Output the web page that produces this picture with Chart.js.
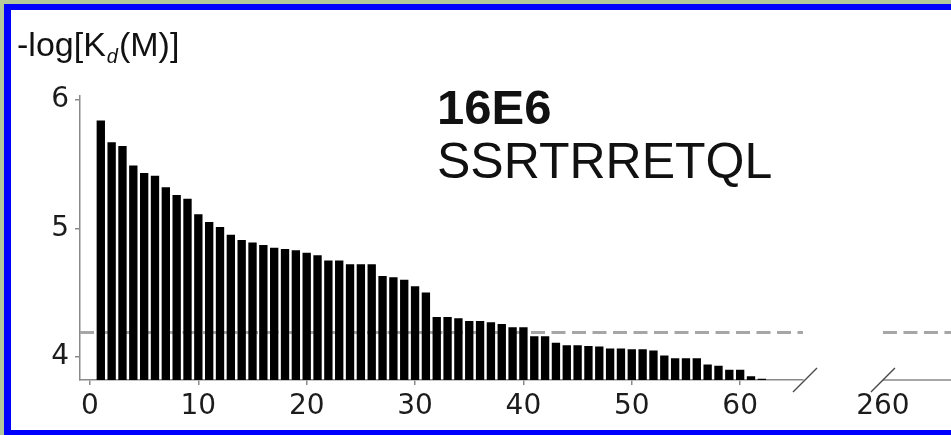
<!DOCTYPE html>
<html>
<head>
<meta charset="utf-8">
<script src="https://cdn.jsdelivr.net/npm/chart.js@4.4.1/dist/chart.umd.min.js"></script>
<style>
  html, body { margin: 0; padding: 0; }
  body {
    width: 951px; height: 435px; overflow: hidden; position: relative;
    background: #b5c89b;
    font-family: "Liberation Sans", Arial, sans-serif;
  }
  #frame {
    position: absolute; left: 4px; top: 4px; width: 970px; height: 431px;
    box-sizing: border-box; background: #fff;
    border-left: 7px solid #0000ff; border-top: 6px solid #0000ff; border-bottom: 5px solid #0000ff;
  }
  #chart { position: absolute; left: 0; top: 0; }
  .txt { position: absolute; white-space: nowrap; color: #111; line-height: 1; }
  .sub { font-size: 20px; font-style: italic; position: relative; top: 7px; margin-left: 1px; margin-right: 1px; }
</style>
</head>
<body>
<div id="frame"></div>
<canvas id="chart" width="951" height="435"></canvas>
<div class="txt" style="left:17px; top:27px; font-size:34px;">-log[K<span class="sub">d</span>(M)]</div>
<div class="txt" style="left:437px; top:83px; font-size:49px; font-weight:bold;">16E6</div>
<div class="txt" style="left:437px; top:136px; font-size:50px;">SSRTRRETQL</div>
<script>
// Ranked peptides and their binding affinity, -log[Kd (M)]
const ranks = [
  1, 2, 3, 4, 5, 6, 7, 8, 9, 10,
  11, 12, 13, 14, 15, 16, 17, 18, 19, 20,
  21, 22, 23, 24, 25, 26, 27, 28, 29, 30,
  31, 32, 33, 34, 35, 36, 37, 38, 39, 40,
  41, 42, 43, 44, 45, 46, 47, 48, 49, 50,
  51, 52, 53, 54, 55, 56, 57, 58, 59, 60,
  61, 62
];
const affinity = [
  5.84, 5.67, 5.64, 5.49, 5.43, 5.41, 5.32, 5.26, 5.23, 5.11,
  5.05, 5.01, 4.95, 4.91, 4.89, 4.87, 4.85, 4.84, 4.83, 4.81,
  4.79, 4.75, 4.75, 4.72, 4.72, 4.72, 4.63, 4.62, 4.60, 4.55,
  4.50, 4.31, 4.31, 4.30, 4.28, 4.28, 4.27, 4.255, 4.23, 4.23,
  4.16, 4.16, 4.11, 4.09, 4.09, 4.085, 4.08, 4.065, 4.065, 4.06,
  4.06, 4.05, 4.01, 3.99, 3.99, 3.99, 3.94, 3.93, 3.90, 3.90,
  3.85, 3.83
];
const threshold = 4.19;

// Axis ranges and tick labels
const yRange = [3.82, 6.03];
const yTicks = [4, 5, 6];
const xRangeMain = [-0.92, 65.8];
const xTicksMain = [0, 10, 20, 30, 40, 50, 60];
const xRangeTail = [252.62, 266.28];
const xTicksTail = [260];

const axisGray = '#8a8a8a';
const tickColor = '#1c1c1c';
const tickFont = { family: 'DejaVu Sans', size: 28 };
const setTicks = values => scale => { scale.ticks = values.map(v => ({ value: v })); };

// Right-hand axis stub plus the "//" marks of the broken x axis
const brokenAxis = {
  id: 'brokenAxis',
  afterDatasetsDraw(chart) {
    const { ctx, scales: { x, x2 } } = chart;
    const yb = x.top;
    const xs = x2.getPixelForValue(xTicksTail[0]);
    ctx.save();
    ctx.strokeStyle = axisGray;
    ctx.lineWidth = 1.5;
    ctx.beginPath();
    ctx.moveTo(xs, yb);
    ctx.lineTo(x2.right, yb);
    ctx.stroke();
    ctx.strokeStyle = '#4a4a4a';
    ctx.lineWidth = 1.4;
    ctx.beginPath();
    for (const cx of [x.right + 2, xs]) {
      ctx.moveTo(cx - 12, yb + 12);
      ctx.lineTo(cx + 12, yb - 12);
    }
    ctx.stroke();
    ctx.restore();
  }
};

const dashStyle = {
  type: 'line', borderColor: '#a6a6a6', borderWidth: 3, borderDash: [14, 6.5],
  borderCapStyle: 'butt', pointRadius: 0, fill: false, yAxisID: 'y', order: 1
};

new Chart(document.getElementById('chart'), {
  type: 'bar',
  data: {
    datasets: [
      {
        type: 'bar',
        data: ranks.map((r, i) => ({ x: r, y: affinity[i] })),
        backgroundColor: '#000000',
        borderWidth: 0,
        grouped: false,
        barPercentage: 0.77,
        categoryPercentage: 1,
        xAxisID: 'x', yAxisID: 'y', order: 0
      },
      Object.assign({}, dashStyle, {
        xAxisID: 'x',
        data: xRangeMain.map(v => ({ x: v, y: threshold }))
      }),
      Object.assign({}, dashStyle, {
        xAxisID: 'x2',
        data: [xTicksTail[0], xRangeTail[1]].map(v => ({ x: v, y: threshold }))
      })
    ]
  },
  options: {
    responsive: false,
    animation: false,
    devicePixelRatio: 1,
    layout: { padding: { left: 0, right: 0, top: 96, bottom: 15 } },
    plugins: { legend: { display: false }, tooltip: { enabled: false } },
    scales: {
      x: {
        type: 'linear', position: 'bottom', stack: 'xaxis', stackWeight: 723,
        min: xRangeMain[0], max: xRangeMain[1], offset: false,
        afterBuildTicks: setTicks(xTicksMain),
        afterFit: s => { s.height = 40; },
        grid: { display: true, offset: false, drawOnChartArea: false, tickLength: 5, color: axisGray, lineWidth: 1.5 },
        border: { display: true, color: axisGray, width: 1.5 },
        ticks: { font: tickFont, color: tickColor, padding: 5, maxRotation: 0, autoSkip: false }
      },
      x2: {
        type: 'linear', position: 'bottom', stack: 'xaxis', stackWeight: 148,
        min: xRangeTail[0], max: xRangeTail[1], offset: false,
        afterBuildTicks: setTicks(xTicksTail),
        afterFit: s => { s.height = 40; },
        grid: { display: true, offset: false, drawOnChartArea: false, tickLength: 5, color: 'rgba(0,0,0,0)' },
        border: { display: false },
        ticks: { font: tickFont, color: tickColor, padding: 5, maxRotation: 0, autoSkip: false }
      },
      y: {
        type: 'linear', position: 'left', beginAtZero: false,
        min: yRange[0], max: yRange[1],
        afterBuildTicks: setTicks(yTicks),
        afterFit: s => { s.width = 80; },
        grid: { display: true, drawOnChartArea: false, tickLength: 5, color: axisGray, lineWidth: 1.5 },
        border: { display: true, color: axisGray, width: 1.5 },
        ticks: { font: tickFont, color: tickColor, padding: 6 }
      }
    }
  },
  plugins: [brokenAxis]
});
</script>
</body>
</html>
